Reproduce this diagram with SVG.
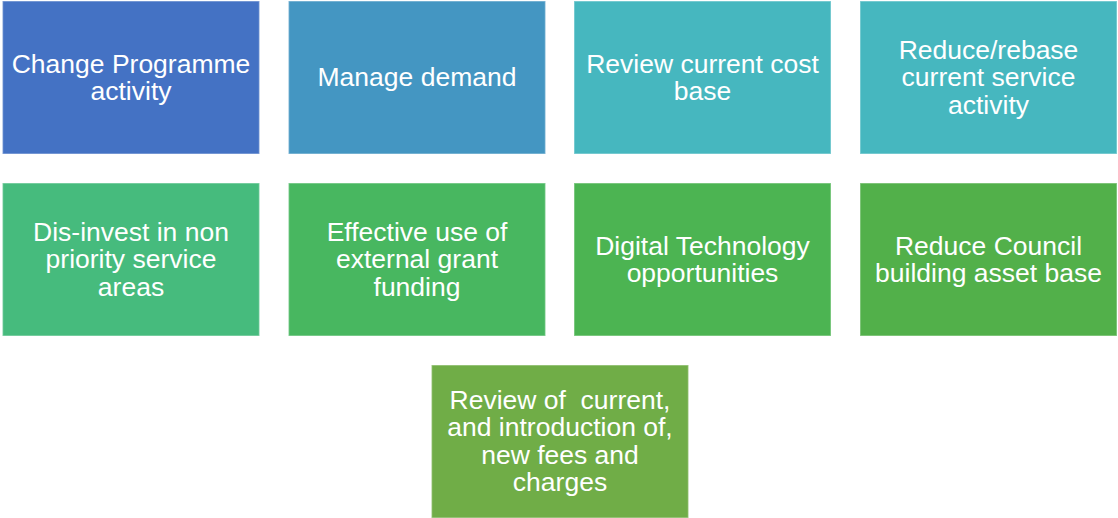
<svg xmlns="http://www.w3.org/2000/svg" width="1118" height="518" viewBox="0 0 1118 518">
  <style>
    .box { stroke: #ffffff; stroke-opacity: 0.35; stroke-width: 1.5; }
    .lbl { font-family: "Liberation Sans", Arial, sans-serif; font-size: 26.5px; fill: #ffffff; text-anchor: middle; }
  </style>
  <rect width="1118" height="518" fill="#ffffff"/>

  <!-- row 1 -->
  <g id="n1">
    <rect class="box" x="2.5" y="1" width="257" height="153" fill="#4472C4"/>
    <text class="lbl" x="131" y="72.5">Change Programme<tspan x="131" dy="27.5">activity</tspan></text>
  </g>
  <g id="n2">
    <rect class="box" x="288.5" y="1" width="257" height="153" fill="#4496C2"/>
    <text class="lbl" x="417" y="85.5">Manage demand</text>
  </g>
  <g id="n3">
    <rect class="box" x="574" y="1" width="257" height="153" fill="#46B7BF"/>
    <text class="lbl" x="702.5" y="72.5">Review current cost<tspan x="702.5" dy="27.5">base</tspan></text>
  </g>
  <g id="n4">
    <rect class="box" x="860" y="1" width="257" height="153" fill="#46B7BF"/>
    <text class="lbl" x="988.5" y="58.5">Reduce/rebase<tspan x="988.5" dy="27.5">current service</tspan><tspan x="988.5" dy="27.5">activity</tspan></text>
  </g>

  <!-- row 2 -->
  <g id="n5">
    <rect class="box" x="2.5" y="183" width="257" height="153" fill="#46BB7D"/>
    <text class="lbl" x="131" y="240.5">Dis-invest in non<tspan x="131" dy="27.5">priority service</tspan><tspan x="131" dy="27.5">areas</tspan></text>
  </g>
  <g id="n6">
    <rect class="box" x="288.5" y="183" width="257" height="153" fill="#48B760"/>
    <text class="lbl" x="417" y="240.5">Effective use of<tspan x="417" dy="27.5">external grant</tspan><tspan x="417" dy="27.5">funding</tspan></text>
  </g>
  <g id="n7">
    <rect class="box" x="574" y="183" width="257" height="153" fill="#4CB452"/>
    <text class="lbl" x="702.5" y="254.5">Digital Technology<tspan x="702.5" dy="27.5">opportunities</tspan></text>
  </g>
  <g id="n8">
    <rect class="box" x="860" y="183" width="257" height="153" fill="#52B04A"/>
    <text class="lbl" x="988.5" y="254.5">Reduce Council<tspan x="988.5" dy="27.5">building asset base</tspan></text>
  </g>

  <!-- row 3 -->
  <g id="n9">
    <rect class="box" x="431.5" y="365" width="257" height="153" fill="#70AD47"/>
    <text class="lbl" x="560" y="408.5" xml:space="preserve">Review of  current,<tspan x="560" dy="27.5">and introduction of,</tspan><tspan x="560" dy="27.5">new fees and</tspan><tspan x="560" dy="27.5">charges</tspan></text>
  </g>

  <!-- no connectors in this layout -->
  <g id="connectors"/>
</svg>
